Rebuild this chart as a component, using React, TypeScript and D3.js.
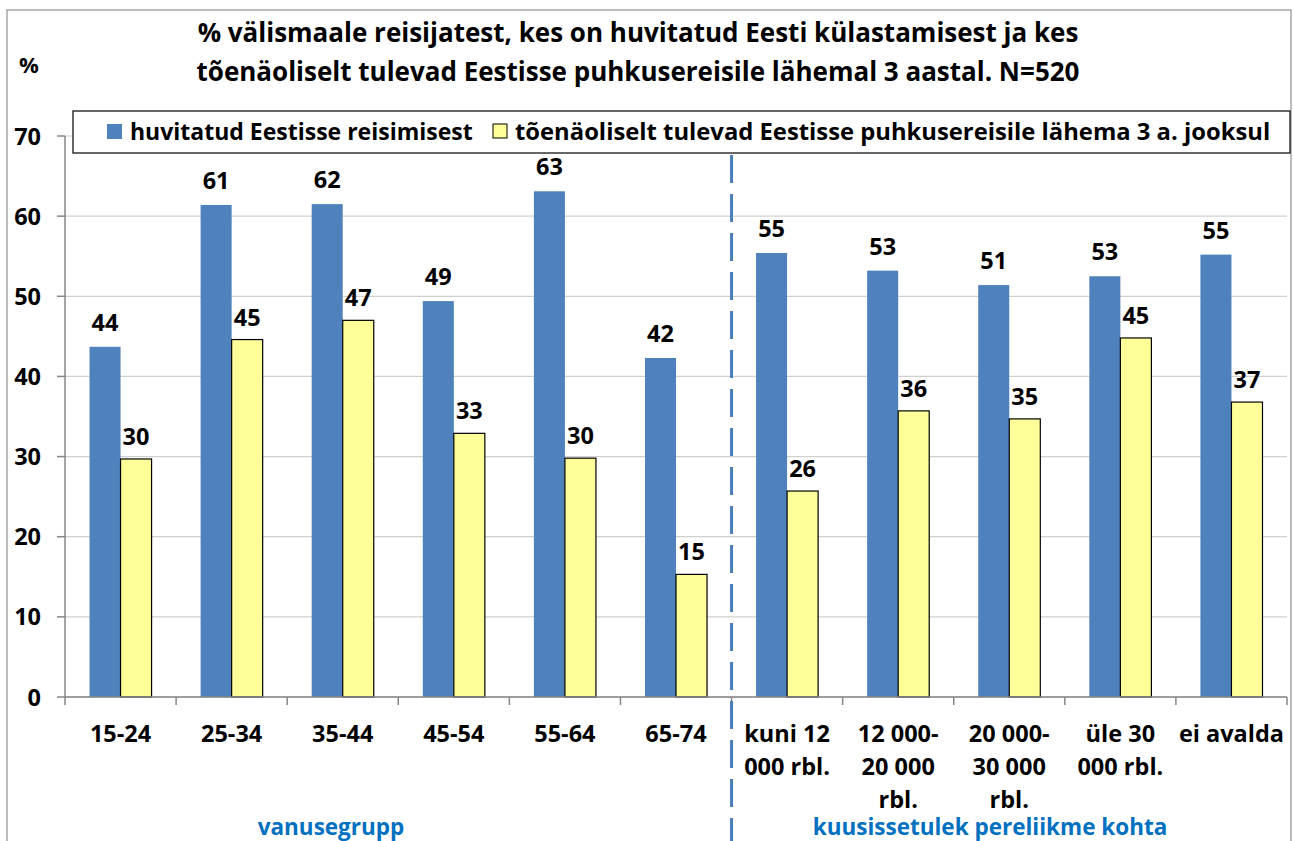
import React from "react";
import * as d3 from "d3";

const categories: string[][] = [
  ["15-24"],
  ["25-34"],
  ["35-44"],
  ["45-54"],
  ["55-64"],
  ["65-74"],
  ["kuni 12", "000 rbl."],
  ["12 000-", "20 000", "rbl."],
  ["20 000-", "30 000", "rbl."],
  ["üle 30", "000 rbl."],
  ["ei avalda"],
];
const interested: number[] = [43.7, 61.4, 61.5, 49.4, 63.1, 42.3, 55.4, 53.2, 51.4, 52.5, 55.2];
const likely: number[] = [29.7, 44.6, 47.0, 32.9, 29.8, 15.3, 25.7, 35.7, 34.7, 44.8, 36.8];
const seriesNames = [
  "huvitatud Eestisse reisimisest",
  "tõenäoliselt tulevad Eestisse puhkusereisile lähema 3 a. jooksul",
];
const yTicks = [0, 10, 20, 30, 40, 50, 60, 70];
const titleLines = [
  "% välismaale reisijatest, kes on huvitatud Eesti külastamisest ja kes",
  "tõenäoliselt tulevad Eestisse puhkusereisile lähemal 3 aastal. N=520",
];
const groupLabels = [
  { label: "vanusegrupp", from: 0, to: 6 },
  { label: "kuusissetulek pereliikme kohta", from: 6, to: 11 },
];

const FONT = "'Open Sans', Lato, sans-serif";
const BLUE = "#4f81bd";
const YELLOW = "#ffff99";

export default function App() {
  const W = 1293;
  const H = 841;
  const left = 65;
  const right = 1287;
  const top = 136;
  const bottom = 697;

  const x = d3
    .scaleBand<number>()
    .domain(d3.range(categories.length))
    .range([left, right])
    .paddingInner(0)
    .paddingOuter(0);
  const y = d3.scaleLinear().domain([0, 70]).range([bottom, top]);
  const bw = x.bandwidth();
  const barW = bw / 3.58;
  const gap = (bw - 2 * barW) / 2;

  const dividerX = x(6)!;
  const groupX = [331, 990];

  return (
    <svg
      width={W}
      height={H}
      style={{ position: "absolute", left: 0, top: 0, background: "#fff" }}
      fontFamily={FONT}
      fontWeight="bold"
    >
      <rect x={7} y={10} width={1284} height={H} fill="#fff" stroke="#a6a6a6" strokeWidth={1.5} />

      {/* title */}
      {titleLines.map((t, i) => (
        <text key={i} x={638} y={42 + i * 39} textAnchor="middle" fontSize={26} fill="#000">
          {t}
        </text>
      ))}
      <text x={29} y={73} textAnchor="middle" fontSize={22} fill="#000">
        %
      </text>

      {/* gridlines */}
      {yTicks.map((t) => (
        <line key={t} x1={left} x2={right} y1={y(t)} y2={y(t)} stroke="#d0d0d0" strokeWidth={1.2} />
      ))}

      {/* bars */}
      {categories.map((_, i) => (
        <g key={i}>
          <rect
            x={x(i)! + gap}
            y={y(interested[i])}
            width={barW}
            height={bottom - y(interested[i])}
            fill={BLUE}
          />
          <rect
            x={x(i)! + gap + barW}
            y={y(likely[i])}
            width={barW}
            height={bottom - y(likely[i])}
            fill={YELLOW}
            stroke="#000"
            strokeWidth={1.2}
          />
          <text
            x={x(i)! + gap + barW / 2}
            y={y(interested[i]) - 16}
            textAnchor="middle"
            fontSize={23.5}
            fill="#000"
          >
            {Math.round(interested[i])}
          </text>
          <text
            x={x(i)! + gap + barW * 1.5}
            y={y(likely[i]) - 14}
            textAnchor="middle"
            fontSize={23.5}
            fill="#000"
          >
            {Math.round(likely[i])}
          </text>
        </g>
      ))}

      {/* y axis */}
      <line x1={left} x2={left} y1={top} y2={bottom} stroke="#868686" strokeWidth={1.5} />
      {yTicks.map((t) => (
        <g key={t}>
          <line x1={left - 8} x2={left} y1={y(t)} y2={y(t)} stroke="#868686" strokeWidth={1.5} />
          <text x={41} y={y(t) + 8.5} textAnchor="end" fontSize={23.5} fill="#000">
            {t}
          </text>
        </g>
      ))}

      {/* x axis */}
      <line x1={left} x2={right} y1={bottom} y2={bottom} stroke="#868686" strokeWidth={1.5} />
      {d3.range(categories.length + 1).map((i) => {
        const xx = i < categories.length ? x(i)! : right;
        return <line key={i} x1={xx} x2={xx} y1={bottom} y2={bottom + 8} stroke="#868686" strokeWidth={1.5} />;
      })}
      {categories.map((lines, i) =>
        lines.map((ln, j) => (
          <text
            key={i + "-" + j}
            x={x(i)! + bw / 2}
            y={742 + j * 33}
            textAnchor="middle"
            fontSize={23.5}
            fill="#000"
          >
            {ln}
          </text>
        ))
      )}

      {/* group labels */}
      {groupLabels.map((g, k) => (
        <text key={g.label} x={groupX[k]} y={835} textAnchor="middle" fontSize={22.5} fill="#0070c0">
          {g.label}
        </text>
      ))}

      {/* divider */}
      <line
        x1={dividerX}
        x2={dividerX}
        y1={155}
        y2={H}
        stroke="#4a7ebb"
        strokeWidth={3}
        strokeDasharray="28 11"
      />

      {/* legend */}
      <rect x={73} y={111} width={1217} height={42} fill="#fff" stroke="#000" strokeWidth={1.2} />
      <rect x={107} y={124} width={15} height={15} fill={BLUE} />
      <text x={130} y={140} fontSize={23} fill="#000">
        {seriesNames[0]}
      </text>
      <rect x={493} y={124} width={14} height={14} fill={YELLOW} stroke="#000" strokeWidth={1} />
      <text x={515} y={140} fontSize={23.8} fill="#000">
        {seriesNames[1]}
      </text>
    </svg>
  );
}
